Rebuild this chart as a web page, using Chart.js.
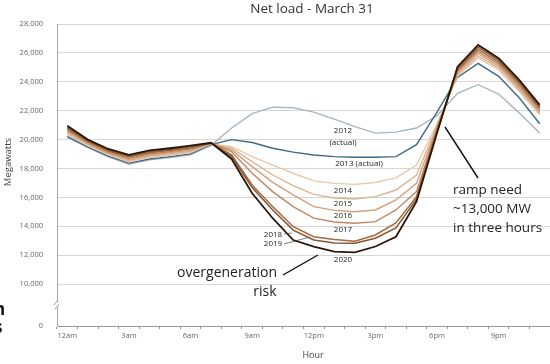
<!DOCTYPE html>
<html>
<head>
<meta charset="utf-8">
<script src="https://cdn.jsdelivr.net/npm/chart.js@4.4.1/dist/chart.umd.min.js"></script>
<style>
  html, body { margin: 0; padding: 0; background: #fff; }
  #wrap { width: 550px; height: 364px; position: relative; }
</style>
</head>
<body>
<div id="wrap"><canvas id="duckCanvas"></canvas></div>
<script>
const hours = ['12am','1am','2am','3am','4am','5am','6am','7am','8am','9am','10am','11am',
  '12pm','1pm','2pm','3pm','4pm','5pm','6pm','7pm','8pm','9pm','10pm','11pm'];
const yTickValues = [0, 10000, 12000, 14000, 16000, 18000, 20000, 22000, 24000, 26000, 28000];
const breakFloor = 7100; // where "0" sits once the axis is broken

const load2012 = [20150,19450,18800,18300,18600,18760,18950,19600,20800,21800,22250,22200,21900,21420,20900,20450,20520,20800,21650,23200,23800,23150,21850,20450];
const load2013 = [20230,19500,18850,18370,18660,18820,19010,19650,20000,19800,19400,19130,18930,18820,18780,18780,18820,19650,21900,24300,25280,24380,22900,21100];
const load2014 = [20350,19590,18940,18460,18760,18920,19110,19700,19510,18820,18240,17670,17140,16970,16900,17030,17350,18240,21100,24400,25630,24820,23320,21700];
const load2015 = [20450,19650,19000,18540,18840,19000,19180,19710,19400,18470,17550,16810,16210,15960,15890,16050,16510,17550,20980,24510,25780,24950,23450,21820];
const load2016 = [20550,19720,19070,18620,18920,19080,19260,19720,19280,18130,17040,16170,15360,15100,15010,15130,15820,16970,20870,24620,25940,25090,23590,21930];
const load2017 = [20650,19790,19140,18700,19000,19160,19340,19740,19160,17670,16400,15360,14560,14300,14210,14320,15130,16400,20760,24730,26090,25220,23720,22050];
const load2018 = [20750,19860,19210,18790,19090,19240,19420,19750,18940,16860,15360,13970,13280,13080,12960,13400,14230,16050,20650,24830,26240,25360,23860,22170];
const load2019 = [20850,19930,19280,18870,19170,19320,19500,19760,18820,16680,15130,13740,13050,12850,12830,13170,13880,15870,20550,24940,26400,25500,24000,22280];
const load2020 = [20950,20000,19350,18950,19250,19400,19580,19780,18660,16290,14560,13050,12590,12250,12200,12600,13280,15700,20450,25050,26550,25630,24130,22400];

const FONT = '"Open Sans", "Noto Sans", sans-serif';

function series(label, data, color, width) {
  return { label, data, borderColor: color, backgroundColor: color, borderWidth: width,
    pointRadius: 0, tension: 0, fill: false };
}

// free text, leader lines and the axis break
const notesPlugin = {
  id: 'notes',
  afterDraw(chart) {
    const ctx = chart.ctx;
    ctx.save();
    const txt = (s, x, y, size, color, align, weight) => {
      ctx.font = (weight || '') + ' ' + size + 'px ' + FONT;
      ctx.fillStyle = color;
      ctx.textAlign = align || 'left';
      ctx.textBaseline = 'middle';
      ctx.fillText(s, x, y);
    };
    const line = (x1, y1, x2, y2, w, color) => {
      ctx.beginPath();
      ctx.moveTo(x1, y1);
      ctx.lineTo(x2, y2);
      ctx.lineWidth = w;
      ctx.strokeStyle = color;
      ctx.stroke();
    };

    txt('Net load - March 31', 312, 9, 13.5, '#333', 'center');
    txt('Hour', 313, 355, 9, '#444', 'center');

    ctx.save();
    ctx.translate(8, 162);
    ctx.rotate(-Math.PI / 2);
    txt('Megawatts', 0, 0, 9.5, '#444', 'center');
    ctx.restore();

    txt('2012', 343, 131, 8, '#222', 'center');
    txt('(actual)', 343, 143, 8, '#222', 'center');
    txt('2013 (actual)', 359, 164, 8, '#222', 'center');
    txt('2014', 343, 191, 8, '#222', 'center');
    txt('2015', 343, 204, 8, '#222', 'center');
    txt('2016', 343, 216, 8, '#222', 'center');
    txt('2017', 343, 230, 8, '#222', 'center');
    txt('2020', 343, 260, 8, '#222', 'center');
    txt('2018', 273, 235, 8, '#222', 'center');
    txt('2019', 273, 244, 8, '#222', 'center');
    line(284, 234, 292, 233, 0.7, '#444');
    line(284, 244, 310, 237, 0.7, '#444');

    txt('overgeneration', 227, 273, 14, '#222', 'center');
    txt('risk', 265, 292, 14, '#222', 'center');
    line(283, 275, 318, 255, 1.4, '#111');

    txt('ramp need', 453, 190, 13.5, '#222', 'left');
    txt('~13,000 MW', 453, 209, 13.5, '#222', 'left');
    txt('in three hours', 453, 228, 13.5, '#222', 'left');
    line(445, 127, 478, 178, 1.4, '#111');

    // axis break
    ctx.fillStyle = '#fff';
    ctx.fillRect(54, 302, 6, 5);
    line(54, 305, 58, 300, 0.8, '#888');
    line(55, 309, 59, 304, 0.8, '#888');

    // cut-off letters at the left edge
    txt('n', -6, 310, 17, '#111', 'left', 'bold');
    txt('s', -6, 328, 17, '#111', 'left', 'bold');
    ctx.restore();
  }
};

new Chart(document.getElementById('duckCanvas'), {
  type: 'line',
  data: {
    labels: hours,
    datasets: [
      series('2020', load2020, '#2a160a', 1.8),
      series('2019', load2019, '#875530', 1.5),
      series('2018', load2018, '#a06c44', 1.5),
      series('2017', load2017, '#c08862', 1.4),
      series('2016', load2016, '#d1a07c', 1.4),
      series('2015', load2015, '#ddb593', 1.4),
      series('2014', load2014, '#e9c9ab', 1.4),
      series('2013 (actual)', load2013, '#3e6a86', 1.4),
      series('2012 (actual)', load2012, '#a8b6c4', 1.4)
    ]
  },
  options: {
    responsive: true,
    maintainAspectRatio: false,
    animation: false,
    layout: { padding: { top: 24, right: 0, left: 0, bottom: 0 } },
    plugins: {
      legend: { display: false },
      tooltip: { enabled: false }
    },
    scales: {
      x: {
        type: 'category',
        offset: true,
        grid: { offset: true, drawOnChartArea: false, drawTicks: true, tickLength: 3, color: '#999' },
        border: { display: true, color: '#999' },
        ticks: {
          autoSkip: false, maxRotation: 0, padding: 2,
          color: '#666', font: { size: 7.5, family: FONT },
          callback: (v, i) => i % 3 === 0 ? hours[i] : ''
        },
        afterFit: s => { s.height = 38; }
      },
      y: {
        min: breakFloor,
        max: 28000,
        afterBuildTicks: s => {
          s.ticks = yTickValues.map(v => ({ value: v === 0 ? breakFloor : v }));
        },
        grid: {
          drawTicks: false,
          color: c => c.tick && c.tick.value === breakFloor ? 'rgba(0,0,0,0)' : '#d6d6d6'
        },
        border: { display: true, color: '#aaa' },
        ticks: {
          padding: 14,
          color: '#666', font: { size: 7.5, family: FONT },
          callback: v => v === breakFloor ? '0' : v.toLocaleString('en-US')
        },
        afterFit: s => { s.width = 57; }
      }
    }
  },
  plugins: [notesPlugin]
});
</script>
</body>
</html>
